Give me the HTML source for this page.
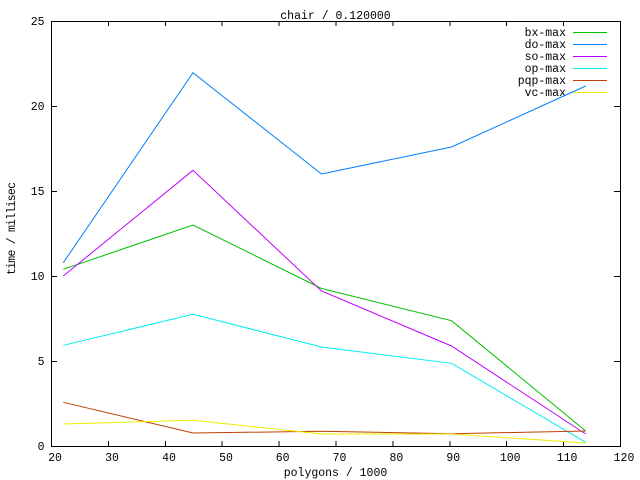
<!DOCTYPE html>
<html><head><meta charset="utf-8"><style>
html,body{margin:0;padding:0;background:#fff;}
svg{display:block;}
text{font-family:"Liberation Mono","DejaVu Sans Mono",monospace;font-size:11.5px;fill:#000;}
</style></head><body>
<svg width="640" height="480" viewBox="0 0 640 480" xmlns="http://www.w3.org/2000/svg">
<rect width="640" height="480" fill="#fff"/>
<g stroke="#000" stroke-width="1" fill="none" shape-rendering="crispEdges">
<rect x="51.5" y="21.5" width="569" height="425"/>
<!-- x ticks -->
<path d="M51.5 446v-5M51.5 21v5
M108.4 446v-5M108.4 21v5
M165.3 446v-5M165.3 21v5
M222.2 446v-5M222.2 21v5
M279.1 446v-5M279.1 21v5
M336 446v-5M336 21v5
M392.9 446v-5M392.9 21v5
M449.8 446v-5M449.8 21v5
M506.7 446v-5M506.7 21v5
M563.6 446v-5M563.6 21v5
M620.5 446v-5M620.5 21v5"/>
<!-- y ticks -->
<path d="M51 446.5h6M620 446.5h-6
M51 361.5h6M620 361.5h-6
M51 276.5h6M620 276.5h-6
M51 191.5h6M620 191.5h-6
M51 106.5h6M620 106.5h-6
M51 21.5h6M620 21.5h-6"/>
</g>
<!-- tick labels -->
<g text-anchor="middle">
<text x="55" y="461">20</text>
<text x="112" y="461">30</text>
<text x="169" y="461">40</text>
<text x="226" y="461">50</text>
<text x="282.6" y="461">60</text>
<text x="339.5" y="461">70</text>
<text x="396.4" y="461">80</text>
<text x="453.3" y="461">90</text>
<text x="510.2" y="461">100</text>
<text x="567.1" y="461">110</text>
<text x="624" y="461">120</text>
</g>
<g text-anchor="end">
<text x="44.5" y="450">0</text>
<text x="44.5" y="365">5</text>
<text x="44.5" y="280">10</text>
<text x="44.5" y="195">15</text>
<text x="44.5" y="110">20</text>
<text x="44.5" y="25">25</text>
</g>
<text x="335.5" y="19" text-anchor="middle">chair / 0.120000</text>
<text x="335.5" y="476" text-anchor="middle">polygons / 1000</text>
<text transform="translate(15,228.5) rotate(-90)" text-anchor="middle" textLength="93" lengthAdjust="spacing">time / millisec</text>
<!-- legend -->
<g text-anchor="end">
<text x="566" y="36">bx-max</text>
<text x="566" y="48">do-max</text>
<text x="566" y="60">so-max</text>
<text x="566" y="72">op-max</text>
<text x="566" y="84">pqp-max</text>
<text x="566" y="96">vc-max</text>
</g>
<g stroke-width="1" fill="none" shape-rendering="crispEdges">
<path d="M573 32.5h34" stroke="#00c000"/>
<path d="M573 44.5h34" stroke="#0080ff"/>
<path d="M573 56.5h34" stroke="#c000ff"/>
<path d="M573 68.5h34" stroke="#00eeee"/>
<path d="M573 80.5h34" stroke="#c04000"/>
<path d="M573 92.5h34" stroke="#eeee00"/>
</g>
<!-- series -->
<g stroke-width="1" fill="none">
<polyline stroke="#00c000" points="63.3,269.3 193,225 321.5,288.5 451.5,320.7 585.7,431"/>
<polyline stroke="#0080ff" points="63.3,262.7 193,72.7 321.5,174 451.5,147 585.7,86"/>
<polyline stroke="#c000ff" points="63.3,276 193,170.3 321.5,291 451.5,346 585.7,434"/>
<polyline stroke="#00eeee" points="63.3,345.3 193,314.3 321.5,347 451.5,363.3 585.7,442.3"/>
<polyline stroke="#c04000" points="63.3,402.3 193,433 321.5,431.3 451.5,433.7 585.7,431"/>
<polyline stroke="#eeee00" points="63.3,424 193,420.3 321.5,434 451.5,434 585.7,443"/>
</g>
</svg>
</body></html>
